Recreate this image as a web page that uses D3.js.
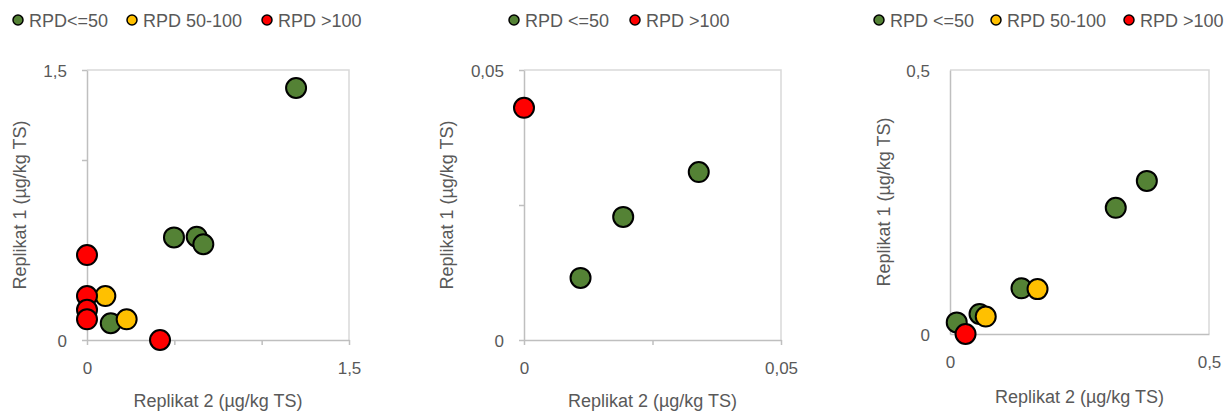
<!DOCTYPE html>
<html>
<head>
<meta charset="utf-8">
<script src="https://cdn.jsdelivr.net/npm/d3@7"></script>
<style>
  body { margin: 0; background: #fff; }
  svg { font-family: 'Liberation Sans', Arial, sans-serif; }
</style>
</head>
<body>
<svg id="chart" width="1230" height="414"></svg>
<script>
// legend names for each panel
const names1 = ['RPD<=50', 'RPD 50-100', 'RPD >100'];
const names2 = ['RPD <=50', 'RPD >100'];
const names3 = ['RPD <=50', 'RPD 50-100', 'RPD >100'];

// [replikat 2, replikat 1] pairs
const p1Green = [[1.197, 1.40], [0.498, 0.570], [0.628, 0.574], [0.666, 0.532], [0.136, 0.093]];
const p1Yellow = [[0.105, 0.244], [0.227, 0.115]];
const p1Red = [[0, 0.472], [0, 0.244], [0, 0.168], [0, 0.115], [0.418, 0]];

const p2Green = [[0.0110, 0.0115], [0.0193, 0.0228], [0.0340, 0.0311]];
const p2Red = [[0, 0.0430]];

const p3Green = [[0.013, 0.022], [0.057, 0.038], [0.138, 0.0865], [0.320, 0.239], [0.380, 0.290]];
const p3Yellow = [[0.069, 0.033], [0.169, 0.085]];
const p3Red = [[0.030, 0]];

// axis ticks and their labels (only the ends carry a label)
const ticks1 = [0, 0.5, 1, 1.5];
const tickLabels1 = ['0', '', '', '1,5'];
const ticks2 = [0, 0.025, 0.05];
const tickLabels2 = ['0', '', '0,05'];
const ticks3 = [0, 0.5];
const tickLabels3 = ['0', '0,5'];

const GREEN = '#548235', YELLOW = '#FFC000', RED = '#FF0000';
const TEXT = '#595959';

document.addEventListener('DOMContentLoaded', function () {
    const svg = d3.select('#chart');

    drawPanel(svg, {
        left: 87, right: 349, top: 70, bottom: 340, tickSize: 5,
        ticks: ticks1, labels: tickLabels1,
        series: [p1Green, p1Yellow, p1Red], colors: [GREEN, YELLOW, RED],
        names: names1, legendX: [18, 132, 267],
        yTitleX: 26, xTitleY: 407
    });

    drawPanel(svg, {
        left: 524, right: 781, top: 70, bottom: 340, tickSize: 5,
        ticks: ticks2, labels: tickLabels2,
        series: [p2Green, p2Red], colors: [GREEN, RED],
        names: names2, legendX: [514, 635],
        yTitleX: 453, xTitleY: 407
    });

    drawPanel(svg, {
        left: 950, right: 1209, top: 70, bottom: 334, tickSize: 0,
        ticks: ticks3, labels: tickLabels3,
        series: [p3Green, p3Yellow, p3Red], colors: [GREEN, YELLOW, RED],
        names: names3, legendX: [879, 996, 1129],
        yTitleX: 890, xTitleY: 403
    });
});

function drawPanel(svg, cfg) {
    const domain = [cfg.ticks[0], cfg.ticks[cfg.ticks.length - 1]];
    const x = d3.scaleLinear().domain(domain).range([cfg.left, cfg.right]);
    const y = d3.scaleLinear().domain(domain).range([cfg.bottom, cfg.top]);
    const fmt = d => cfg.labels[cfg.ticks.indexOf(d)];

    // plot frame (top and right sides)
    svg.append('path')
        .attr('d', `M${cfg.left},${cfg.top}H${cfg.right}V${cfg.bottom}`)
        .attr('fill', 'none')
        .attr('stroke', '#d9d9d9')
        .attr('stroke-width', 1.5);

    // x axis
    const gx = svg.append('g')
        .attr('transform', `translate(0, ${cfg.bottom})`)
        .call(d3.axisBottom(x).tickValues(cfg.ticks).tickFormat(fmt)
            .tickSizeInner(cfg.tickSize).tickSizeOuter(0));
    // y axis
    const gy = svg.append('g')
        .attr('transform', `translate(${cfg.left}, 0)`)
        .call(d3.axisLeft(y).tickValues(cfg.ticks).tickFormat(fmt)
            .tickSizeInner(cfg.tickSize).tickSizeOuter(0));

    [gx, gy].forEach(g => {
        g.select('.domain').attr('stroke', '#bfbfbf').attr('stroke-width', 1.5);
        g.selectAll('.tick line').attr('stroke', '#bfbfbf').attr('stroke-width', 1.5);
        g.selectAll('text').attr('fill', TEXT).attr('font-size', 17)
            .attr('font-family', "'Liberation Sans', Arial, sans-serif");
    });
    gx.selectAll('text').attr('y', 34).attr('dy', 0);
    gy.selectAll('text').attr('x', -20).attr('dy', '0.36em');

    // points, drawn series by series so red ends on top
    cfg.series.forEach((pts, i) => {
        svg.append('g').selectAll('circle')
            .data(pts)
            .enter()
            .append('circle')
            .attr('cx', d => x(d[0]))
            .attr('cy', d => y(d[1]))
            .attr('r', 10)
            .attr('fill', cfg.colors[i])
            .attr('stroke', '#000')
            .attr('stroke-width', 2);
    });

    // legend
    cfg.names.forEach((name, i) => {
        svg.append('circle').attr('cx', cfg.legendX[i]).attr('cy', 20).attr('r', 5)
            .attr('fill', cfg.colors[i]).attr('stroke', '#000').attr('stroke-width', 1.5);
        svg.append('text').attr('x', cfg.legendX[i] + 11).attr('y', 26.5)
            .attr('font-size', 18).attr('fill', TEXT).text(name);
    });

    // axis titles
    svg.append('text')
        .attr('x', (cfg.left + cfg.right) / 2).attr('y', cfg.xTitleY)
        .attr('text-anchor', 'middle').attr('font-size', 18).attr('fill', TEXT)
        .text('Replikat 2 (µg/kg TS)');
    svg.append('text')
        .attr('transform', `translate(${cfg.yTitleX}, ${(cfg.top + cfg.bottom) / 2}) rotate(-90)`)
        .attr('text-anchor', 'middle').attr('font-size', 18).attr('fill', TEXT)
        .text('Replikat 1 (µg/kg TS)');
}
</script>
</body>
</html>
